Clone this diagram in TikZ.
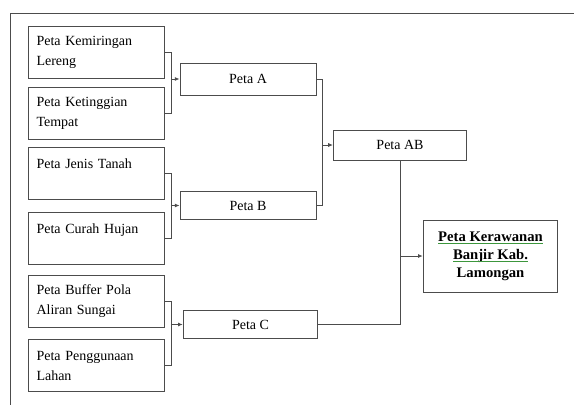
\documentclass[tikz,border=0pt]{standalone}
\usepackage{fontspec}
\setmainfont{Liberation Serif}
\usepackage{xcolor}
\usetikzlibrary{arrows.meta,calc,positioning}

\definecolor{garishijau}{RGB}{60,150,60}
\newcommand{\gul}[1]{\textcolor{garishijau}{\underline{\raisebox{0pt}[\height][0pt]{\textcolor{black}{#1}}}}}

\tikzset{
  peta/.style={draw=black!70, line width=0.65pt, fill=white, font=\fontsize{10.5}{15}\selectfont},
  sumber/.style={peta, text width=90pt, inner xsep=6pt, align=left, minimum height=39pt},
  hasil/.style={peta, minimum width=102pt, minimum height=21pt, align=center},
  garis/.style={draw=black!70, line width=0.65pt},
  panah/.style={garis, -{Latex[length=3.5pt,width=3pt]}}
}

\begin{document}
\begin{tikzpicture}[x=0.75pt,y=-0.75pt]
        \useasboundingbox (0,0) rectangle (574,405);
        \draw[garis] (574,13) -| (10,405);
        \node[sumber] (k1) at (96.5,52) {Peta Kemiringan\\ Lereng};
        \node[sumber] (k2) at (96.5,113.5) {Peta Ketinggian\\ Tempat};
        \node[sumber] (k3) at (96.5,173.5) {Peta Jenis Tanah\\ \mbox{}};
        \node[sumber] (k4) at (96.5,238.5) {Peta Curah Hujan\\ \mbox{}};
        \node[sumber] (k5) at (96.5,301.5) {Peta Buffer Pola\\ Aliran Sungai};
        \node[sumber] (k6) at (96.5,365.5) {Peta Penggunaan\\ Lahan};
        \node[hasil, minimum height=24pt] (pa) at (248,79) {Peta A};
        \node[hasil] (pb) at (248,205.5) {Peta B};
        \node[hasil, minimum width=101pt] (pc) at (250.5,324.5) {Peta C};
        \node[hasil, minimum width=100pt, minimum height=22.5pt] (pab) at (400,145) {Peta AB};
        \node[peta, minimum width=101pt, minimum height=54pt, align=center, font=\fontsize{11}{13.5}\selectfont\bfseries] (fin) at (490.5,256) {\gul{Peta Kerawanan}\\ \gul{Banjir Kab.}\\ Lamongan};
        \draw[garis] (k1.east) -- ++(6,0) coordinate (jA) |- (k2.east);
        \draw[panah] (jA |- pa.west) -- (pa.west);
        \draw[garis] (k3.east) -- ++(6,0) coordinate (jB) |- (k4.east);
        \draw[panah] (jB |- pb.west) -- (pb.west);
        \draw[garis] (k5.east) -- ++(6,0) coordinate (jC) |- (k6.east);
        \draw[panah] (jC |- pc.west) -- (pc.west);
        \draw[garis] (pa.east) -- ++(6,0) coordinate (jAB) |- (pb.east);
        \draw[panah] (jAB |- pab.west) -- (pab.west);
        \draw[garis] (pab.south) |- (pc.east);
        \draw[panah] (pab.south |- fin.west) -- (fin.west);
\end{tikzpicture}
\end{document}
